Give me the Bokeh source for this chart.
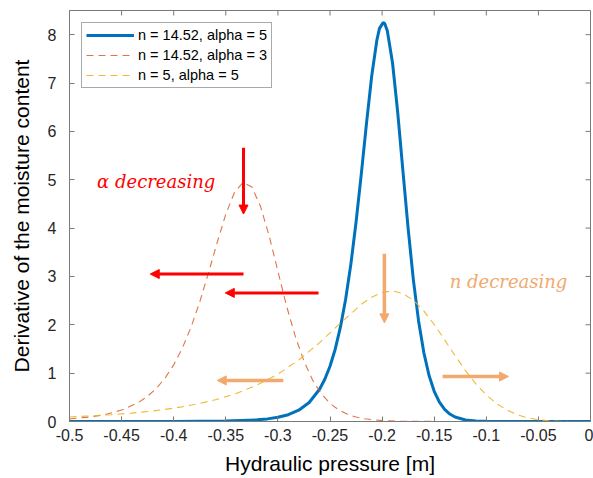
from bokeh.plotting import figure
from bokeh.models import (FixedTicker, Arrow, NormalHead, Legend,
                          LegendItem, Range1d, Label)
from bokeh.embed import file_html
from bokeh.resources import INLINE

# ---------------- data ----------------
x_blue = [-0.5, -0.45, -0.4, -0.35, -0.32, -0.31, -0.30, -0.29, -0.28, -0.27,
          -0.26, -0.255, -0.25, -0.245, -0.24, -0.235, -0.23, -0.225, -0.22,
          -0.215, -0.21, -0.205, -0.2025, -0.199, -0.1975, -0.195, -0.19,
          -0.185, -0.18, -0.175, -0.17, -0.165, -0.16, -0.155, -0.15, -0.145,
          -0.14, -0.135, -0.13, -0.12, -0.11, -0.10, -0.05, 0.0]
y_blue = [0.0, 0.0002, 0.0013, 0.0093, 0.034, 0.054, 0.087, 0.141, 0.234,
          0.393, 0.667, 0.873, 1.142, 1.495, 1.95, 2.53, 3.25, 4.12, 5.11,
          6.16, 7.14, 7.89, 8.13, 8.25, 8.23, 8.08, 7.42, 6.39, 5.18, 3.99,
          2.93, 2.08, 1.43, 0.956, 0.624, 0.399, 0.250, 0.154, 0.0925, 0.0314,
          0.0097, 0.0027, 0.0, 0.0]

x_red = [-0.5, -0.48, -0.4667, -0.45, -0.4333, -0.425, -0.4167, -0.4083, -0.4,
         -0.3917, -0.3833, -0.375, -0.3667, -0.3583, -0.35, -0.3417, -0.3333,
         -0.325, -0.3167, -0.3083, -0.3, -0.2917, -0.2833, -0.275, -0.2667,
         -0.2583, -0.25, -0.2417, -0.2333, -0.225, -0.2167, -0.2, -0.1833,
         -0.1667, -0.1, 0.0]
y_red = [0.052, 0.094, 0.140, 0.236, 0.400, 0.524, 0.685, 0.897, 1.171, 1.519,
         1.954, 2.474, 3.069, 3.698, 4.287, 4.736, 4.947, 4.849, 4.451, 3.832,
         3.108, 2.391, 1.760, 1.248, 0.857, 0.573, 0.375, 0.240, 0.150, 0.092,
         0.056, 0.019, 0.006, 0.002, 0.0, 0.0]

x_yel = [-0.5, -0.48, -0.46, -0.44, -0.42, -0.40, -0.38, -0.36, -0.34, -0.32,
         -0.30, -0.28, -0.26, -0.24, -0.22, -0.21, -0.20, -0.19, -0.18, -0.17,
         -0.16, -0.15, -0.14, -0.13, -0.12, -0.11, -0.10, -0.09, -0.08, -0.07,
         -0.06, -0.05, -0.04, -0.03, -0.02, -0.01, 0.0]
y_yel = [0.094, 0.114, 0.141, 0.174, 0.218, 0.275, 0.350, 0.448, 0.579, 0.753,
         0.980, 1.272, 1.630, 2.035, 2.421, 2.572, 2.671, 2.700, 2.646, 2.507,
         2.287, 2.005, 1.688, 1.362, 1.053, 0.779, 0.550, 0.369, 0.234, 0.138,
         0.075, 0.036, 0.015, 0.005, 0.001, 0.0, 0.0]

series_labels = ["n = 14.52, alpha = 5", "n = 14.52, alpha = 3", "n = 5, alpha = 5"]

x_ticks = [-0.5, -0.45, -0.4, -0.35, -0.3, -0.25, -0.2, -0.15, -0.1, -0.05, 0.0]
x_tick_labels = ["-0.5", "-0.45", "-0.4", "-0.35", "-0.3", "-0.25", "-0.2",
                 "-0.15", "-0.1", "-0.05", "0"]
y_ticks = [0, 1, 2, 3, 4, 5, 6, 7, 8]

# annotation arrows: (x_start, y_start, x_end, y_end)
red_arrows = [(-0.333, 5.66, -0.333, 4.29),
              (-0.333, 3.05, -0.4225, 3.05),
              (-0.261, 2.66, -0.3505, 2.66)]
orange_arrows = [(-0.1978, 3.47, -0.1978, 2.04),
                 (-0.2948, 0.85, -0.3582, 0.85),
                 (-0.1420, 0.93, -0.0787, 0.93)]

# ---------------- styling ----------------
AX = "#7a7a7a"
TXT = "#262626"
FONT = "Liberation Sans"
RED = "#ff0000"
ORANGE = "#f2a96e"
X0, X1, Y0, Y1 = -0.5, 0.0, 0.0, 8.5

p = figure(frame_width=521, frame_height=411, output_backend="svg",
           toolbar_location=None, x_range=Range1d(X0, X1),
           y_range=Range1d(Y0, Y1), min_border_left=69, min_border_right=3,
           min_border_top=10, min_border_bottom=57)
p.background_fill_color = "white"
p.border_fill_color = "white"
p.outline_line_color = AX
p.outline_line_width = 1
p.xgrid.visible = False
p.ygrid.visible = False

r_blue = p.line(x_blue, y_blue, line_color="#0072bd", line_width=3)
r_red = p.line(x_red, y_red, line_color="#d95319", line_width=1.1,
               line_alpha=0.8, line_dash="7 5")
r_yel = p.line(x_yel, y_yel, line_color="#edb120", line_width=1.1,
               line_alpha=0.9, line_dash="7 5")

for ax in (p.xaxis[0], p.yaxis[0]):
    ax.axis_line_color = AX
    ax.major_tick_line_color = AX
    ax.minor_tick_line_color = None
    ax.major_tick_in = 5
    ax.major_tick_out = 0
    ax.major_label_text_font = FONT
    ax.major_label_text_font_size = "16px"
    ax.major_label_text_color = TXT
    ax.axis_label_text_font = FONT
    ax.axis_label_text_font_size = "21px"
    ax.axis_label_text_color = "black"
    ax.axis_label_text_font_style = "normal"

p.xaxis.ticker = FixedTicker(ticks=x_ticks)
p.xaxis.major_label_overrides = {t: s for t, s in zip(x_ticks, x_tick_labels)}
p.yaxis.ticker = FixedTicker(ticks=y_ticks)
p.xaxis.axis_label = "Hydraulic pressure [m]"
p.yaxis.axis_label = "Derivative of the moisture content"
p.xaxis.major_label_standoff = 7
p.xaxis.axis_label_standoff = 8
p.yaxis.major_label_standoff = 13
p.yaxis.axis_label_standoff = 12

# inward tick marks on the top and right edges of the box (5 px long)
tick_dy = 5 * (Y1 - Y0) / 411
tick_dx = 5 * (X1 - X0) / 521
p.segment(x0=x_ticks, y0=[Y1] * len(x_ticks), x1=x_ticks,
          y1=[Y1 - tick_dy] * len(x_ticks), line_color=AX, line_width=1)
p.segment(x0=[X1] * len(y_ticks), y0=y_ticks, x1=[X1 - tick_dx] * len(y_ticks),
          y1=y_ticks, line_color=AX, line_width=1)

legend = Legend(items=[LegendItem(label=series_labels[0], renderers=[r_blue]),
                       LegendItem(label=series_labels[1], renderers=[r_red]),
                       LegendItem(label=series_labels[2], renderers=[r_yel])],
                location="top_left")
legend.margin = 12
legend.padding = 4
legend.spacing = 4
legend.glyph_width = 48
legend.glyph_height = 16
legend.label_height = 16
legend.label_standoff = 4
legend.label_text_font = FONT
legend.label_text_font_size = "14.5px"
legend.label_text_color = "black"
legend.border_line_color = "#555555"
legend.border_line_width = 1
legend.background_fill_color = "white"
legend.background_fill_alpha = 1
p.add_layout(legend)

for (xs, ys, xe, ye) in red_arrows:
    p.add_layout(Arrow(x_start=xs, y_start=ys, x_end=xe, y_end=ye,
                       line_color=RED, line_width=3,
                       end=NormalHead(size=9, fill_color=RED, line_color=RED,
                                      line_width=1)))
for (xs, ys, xe, ye) in orange_arrows:
    p.add_layout(Arrow(x_start=xs, y_start=ys, x_end=xe, y_end=ye,
                       line_color=ORANGE, line_width=3.5,
                       end=NormalHead(size=9, fill_color=ORANGE,
                                      line_color=ORANGE, line_width=1)))

p.add_layout(Label(x=-0.4735, y=4.96, text="α decreasing", text_color=RED,
                   text_font="DejaVu Serif", text_font_style="italic",
                   text_font_size="18px", text_baseline="alphabetic"))
p.add_layout(Label(x=-0.1351, y=2.90, text="n decreasing", text_color=ORANGE,
                   text_font="DejaVu Serif", text_font_style="italic",
                   text_font_size="18px", text_baseline="alphabetic"))

open("out.html", "w").write(file_html(p, INLINE))
